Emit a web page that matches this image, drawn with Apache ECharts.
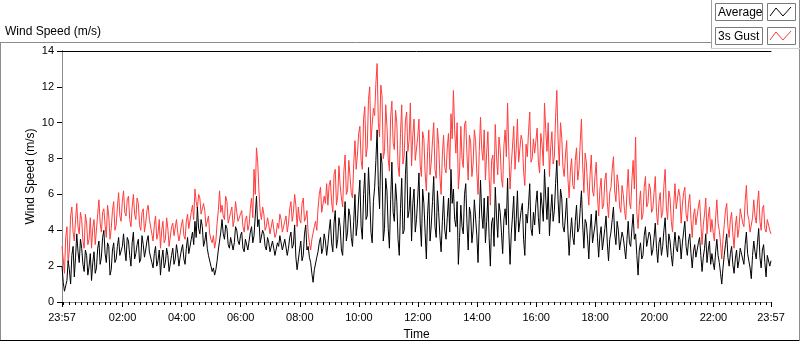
<!DOCTYPE html>
<html>
<head>
<meta charset="utf-8">
<script src="https://cdn.jsdelivr.net/npm/echarts@6/dist/echarts.min.js"></script>
<style>
  html, body { margin: 0; padding: 0; background: #fff; }
  #chart { width: 800px; height: 342px; }
</style>
</head>
<body>
<div id="chart"></div>
<script>
// sampling step of the logged data, minutes from 23:57
const STEP_MIN = 2.5;

// average wind speed (m/s), one row per hour
const averageSpeed = [
  2.0,1.1, 0.6,0.9, 1.2,2.3, 1.8,1.0, 2.6,3.1, 1.4,2.5, 3.8,2.8, 2.2,3.5, 3.0,2.1, 1.7,2.9, 2.6,1.5, 2.0,2.7,
  1.2,2.2, 2.8,1.6, 1.9,3.0, 3.4,2.1, 2.5,3.6, 4.0,2.7, 2.2,3.3, 3.1,1.5, 1.8,2.9, 3.3,2.2, 2.4,3.1, 3.6,2.6,
  2.6,3.1, 3.8,2.9, 2.3,3.6, 3.4,2.6, 2.0,3.3, 3.9,2.4, 2.7,3.2, 3.5,2.2, 2.4,3.7, 3.2,2.5, 2.9,3.4, 3.7,2.8,
  2.8,2.2, 1.9,2.7, 3.1,2.0, 2.3,2.9, 1.5,2.4, 2.9,1.9, 2.2,3.0, 2.6,1.7, 1.8,2.6, 3.0,2.1, 2.4,3.2, 2.7,2.0,
  2.5,2.9, 3.2,2.4, 2.1,3.0, 3.6,2.7, 2.8,3.5, 3.9,3.2, 4.5,3.6, 5.3,4.1, 3.8,4.6, 4.2,3.1, 3.4,3.9, 3.0,2.6,
  2.6,2.0, 1.7,1.9, 1.5,1.8, 2.3,2.9, 3.4,3.9, 4.6,3.8, 3.5,4.3, 4.1,3.2, 3.0,3.6, 3.7,2.9, 3.3,4.2, 4.0,3.4,
  3.2,3.7, 3.9,3.0, 2.8,3.5, 3.6,2.9, 3.0,3.9, 4.2,3.3, 3.7,4.8, 5.9,4.2, 4.6,3.3, 3.4,4.0, 3.8,3.1, 2.9,3.6,
  3.3,2.8, 2.9,3.4, 3.5,2.6, 2.7,3.3, 3.1,3.7, 3.6,2.9, 2.8,3.5, 3.4,2.6, 3.0,3.6, 3.9,3.0, 3.2,4.3, 2.5,1.8,
  1.8,2.9, 3.4,2.3, 2.6,3.8, 4.3,2.9, 3.1,2.5, 2.2,1.6, 1.1,1.8, 1.9,2.5, 2.8,3.3, 3.6,2.7, 3.0,3.8, 3.4,2.6,
  3.2,4.0, 4.6,3.3, 2.8,4.4, 5.1,3.0, 3.5,4.7, 4.2,2.9, 2.6,4.3, 5.6,3.4, 3.9,5.2, 4.8,3.6, 3.1,4.5, 6.0,3.7,
  4.4,5.8, 6.8,4.2, 3.5,6.0, 7.2,4.6, 4.8,7.5, 5.9,3.9, 3.3,5.6, 6.4,7.9, 9.6,6.5, 5.2,8.3, 7.7,3.4, 4.1,6.9,
  6.2,4.1, 3.0,5.7, 7.8,5.0, 4.5,6.6, 5.6,3.5, 2.6,5.2, 6.9,3.8, 4.0,7.1, 8.4,4.7, 5.1,6.4, 3.4,5.5, 6.3,3.9,
  4.6,5.8, 7.2,4.4, 3.1,6.3, 5.5,3.9, 2.4,4.9, 6.1,3.4, 4.3,5.6, 7.0,4.2, 3.6,6.2, 5.0,3.7, 2.8,4.5, 5.9,4.0,
  3.5,4.7, 5.8,3.9, 7.4,5.5, 6.3,4.6, 4.2,5.6, 2.1,3.6, 5.4,4.2, 3.8,6.0, 6.6,4.4, 2.9,5.3, 4.9,3.3, 4.0,5.7,
  5.6,3.7, 2.2,4.6, 6.8,4.9, 4.1,5.8, 3.3,4.5, 5.9,3.6, 2.0,4.4, 4.7,3.1, 6.4,4.8, 3.6,5.5, 5.0,3.9, 2.7,4.6,
  5.2,4.3, 6.9,4.0, 2.1,3.8, 4.8,5.9, 3.4,4.6, 6.2,3.9, 4.0,5.1, 5.5,3.5, 2.6,4.9, 4.4,5.4, 6.6,4.1, 3.7,5.0,
  4.3,5.5, 6.2,4.7, 3.8,6.1, 5.4,4.5, 7.4,5.8, 4.6,6.4, 3.7,5.0, 6.0,4.5, 5.1,6.6, 7.9,5.7, 4.4,6.3, 5.8,4.2,
  3.9,4.8, 5.8,4.0, 2.6,3.8, 4.7,3.6, 3.2,4.5, 5.4,3.9, 4.1,5.2, 6.2,4.3, 3.0,4.6, 4.4,3.5, 2.4,4.0, 4.9,3.3,
  3.4,4.3, 5.1,3.6, 2.5,3.7, 4.2,2.9, 3.0,4.1, 4.8,3.3, 2.3,3.5, 3.9,4.6, 5.3,3.8, 3.2,4.5, 4.0,2.9, 2.8,3.9,
  3.6,3.0, 2.4,3.5, 4.5,3.3, 3.1,4.1, 4.9,3.5, 3.8,2.6, 1.5,2.9, 3.3,2.4, 2.6,3.7, 4.2,3.1, 3.0,3.9, 3.7,2.6,
  2.9,3.6, 4.4,3.0, 2.2,3.3, 3.6,2.6, 3.1,4.0, 4.7,3.2, 2.5,3.8, 3.4,2.6, 2.0,3.1, 3.9,3.0, 2.8,3.7, 3.5,2.4,
  3.3,3.9, 4.5,3.1, 2.6,3.4, 3.8,2.7, 1.9,2.8, 3.2,2.5, 2.4,3.3, 3.6,2.6, 1.7,2.5, 3.0,3.8, 2.2,2.9, 3.4,2.1,
  2.7,2.2, 1.8,2.8, 3.5,2.6, 2.2,1.6, 1.0,1.9, 2.6,3.2, 3.8,2.5, 2.0,2.7, 3.1,2.1, 1.6,2.4, 2.9,1.9, 2.3,3.0,
  3.0,2.4, 2.1,3.2, 3.9,2.7, 2.6,1.9, 1.3,2.6, 3.4,2.8, 2.4,3.3, 4.1,2.5, 1.9,2.9, 3.2,2.2, 1.4,2.6, 2.7,2.0,
  2.3
];

// 3 second gust (m/s), one row per hour
const gustSpeed = [
  3.1,2.4, 1.6,3.6, 4.2,2.2, 2.9,4.8, 5.3,3.9, 3.4,4.6, 5.5,4.2, 3.8,5.0, 4.6,3.4, 3.0,4.9, 4.4,3.2, 3.5,4.7,
  3.0,4.1, 4.6,3.2, 3.3,4.9, 5.7,4.4, 3.9,5.0, 5.2,4.3, 3.6,5.4, 4.8,3.5, 4.1,5.1, 5.6,4.0, 4.3,5.3, 6.1,4.8,
  4.5,5.6, 6.2,5.0, 4.8,5.7, 5.9,4.6, 4.2,5.3, 6.0,4.9, 4.6,5.8, 5.5,4.3, 4.0,5.0, 5.2,3.9, 4.4,5.1, 5.4,4.6,
  4.7,3.8, 3.4,4.3, 4.8,3.5, 3.8,4.6, 3.0,4.0, 4.5,3.3, 3.5,4.7, 4.1,3.1, 3.2,4.2, 4.4,3.7, 3.6,4.6, 3.9,3.4,
  3.8,4.3, 4.6,3.7, 3.5,4.5, 4.9,4.1, 4.2,5.0, 5.4,4.6, 6.3,5.6, 5.2,6.0, 5.8,4.9, 4.8,5.5, 5.1,4.2, 4.3,4.8,
  3.8,3.5, 3.3,3.7, 3.0,3.4, 4.4,5.1, 6.2,5.0, 5.4,4.8, 4.6,5.9, 5.6,4.4, 4.3,5.0, 5.3,4.2, 4.6,5.6, 5.0,4.5,
  4.4,4.9, 5.1,4.2, 3.9,4.6, 4.8,4.0, 4.3,5.2, 5.8,4.7, 7.4,6.0, 8.6,7.8, 6.2,5.0, 4.6,5.3, 4.9,4.0, 4.2,4.7,
  4.3,3.8, 3.9,4.6, 4.5,3.6, 3.8,4.4, 4.1,4.9, 4.6,3.9, 4.0,4.5, 4.8,3.9, 4.4,5.2, 5.6,4.5, 5.0,6.0, 5.4,4.2,
  5.3,4.6, 4.4,5.5, 5.8,4.5, 4.7,5.1, 3.8,3.3, 2.9,3.5, 3.6,4.2, 4.5,4.0, 5.2,6.0, 6.4,5.0, 4.9,5.9, 5.5,6.6,
  5.4,6.5, 6.8,5.6, 5.0,7.1, 7.4,5.4, 5.9,7.6, 6.5,5.8, 5.3,7.3, 8.2,6.0, 6.2,7.9, 7.0,6.1, 5.8,7.7, 9.0,7.4,
  8.2,9.4, 9.8,7.9, 7.4,10.2, 10.9,8.1, 8.6,11.3, 12.0,9.0, 8.9,10.8, 10.4,12.2, 13.3,10.0, 9.2,12.1, 11.5,8.0, 8.4,11.0,
  9.8,8.0, 7.3,10.3, 11.2,8.9, 8.5,10.7, 10.0,7.6, 7.0,9.4, 11.0,7.7, 8.2,10.1, 10.6,8.4, 9.0,11.1, 7.6,9.3, 10.2,7.9,
  8.0,9.2, 10.2,7.6, 7.0,9.5, 9.1,7.2, 6.2,8.4, 9.6,7.1, 7.8,9.0, 10.0,7.4, 6.9,9.7, 8.8,7.0, 6.0,8.2, 9.3,7.5,
  7.2,8.6, 9.4,7.4, 10.5,9.1, 11.8,9.6, 8.3,10.0, 6.3,7.3, 9.8,8.0, 7.5,9.9, 10.1,8.2, 6.8,9.3, 8.9,7.0, 7.7,9.6,
  9.0,7.2, 6.0,8.4, 10.3,8.5, 7.9,9.6, 6.8,8.3, 9.5,7.0, 5.4,7.9, 8.2,6.6, 9.9,8.1, 7.1,9.2, 8.5,6.9, 6.4,8.7,
  9.6,8.1, 11.1,8.4, 6.3,7.6, 8.7,9.8, 7.4,8.5, 10.2,7.8, 7.9,9.3, 9.0,7.3, 6.5,8.8, 8.1,9.5, 10.6,7.8, 8.0,9.1,
  8.3,9.0, 9.7,7.8, 7.2,9.4, 8.8,7.6, 11.1,9.6, 8.4,10.0, 7.0,8.6, 9.5,7.7, 8.1,10.3, 11.8,9.1, 7.6,10.0, 9.2,7.5,
  7.0,8.2, 9.0,6.9, 5.8,7.3, 8.0,6.5, 6.3,7.9, 8.6,6.8, 7.4,8.9, 10.2,7.6, 6.1,8.3, 7.8,6.4, 5.4,7.1, 8.2,6.2,
  5.9,7.0, 7.8,5.9, 4.8,6.3, 6.9,5.2, 5.4,6.8, 7.2,5.6, 4.7,6.1, 6.4,7.4, 8.1,6.2, 5.6,7.1, 6.6,5.3, 5.0,6.5,
  6.0,5.1, 4.6,6.2, 7.4,5.6, 5.2,6.8, 7.9,6.3, 9.2,5.0, 4.1,5.4, 6.2,4.6, 4.9,6.4, 7.0,5.3, 5.5,6.6, 6.3,5.0,
  5.2,6.1, 7.0,5.0, 4.3,5.6, 6.1,4.7, 5.0,6.5, 7.4,5.3, 4.6,6.2, 5.8,4.5, 3.9,5.4, 6.6,5.2, 5.1,6.3, 5.9,4.4,
  5.4,6.1, 6.4,4.9, 4.5,5.5, 6.0,4.6, 3.6,4.8, 5.2,4.3, 4.2,5.3, 5.7,4.4, 3.2,4.3, 4.9,5.8, 3.8,4.7, 5.3,3.9,
  4.6,3.9, 3.4,4.7, 5.7,4.4, 4.0,3.3, 2.4,3.5, 4.3,5.1, 5.5,4.2, 3.6,4.6, 5.0,3.8, 3.0,4.2, 4.8,3.6, 4.1,5.2,
  5.3,4.4, 4.2,5.6, 6.5,4.9, 4.6,3.9, 3.8,4.7, 5.7,4.8, 4.4,5.5, 6.2,4.5, 4.0,5.2, 5.4,4.1, 3.9,4.6, 4.5,4.0,
  3.8
];

// x-axis: minutes after 23:57, major labelled ticks
const majorTicks = [0, 123, 243, 363, 483, 603, 723, 843, 963, 1083, 1203, 1323, 1440];
const majorLabels = ["23:57", "02:00", "04:00", "06:00", "08:00", "10:00", "12:00",
  "14:00", "16:00", "18:00", "20:00", "22:00", "23:57"];
// minor ticks every 12 minutes from 00:00
const minorTicks = [];
for (let m = 3; m < 1440; m += 12) {
  if (majorTicks.indexOf(m) < 0) minorTicks.push(m);
}

const seriesNames = ["Average", "3s Gust"];
const seriesColors = ["#000000", "#ff3d3d"];

const toPairs = (values) => values.map((v, i) => [i * STEP_MIN, v]);

const FONT = "Liberation Sans";
const chart = echarts.init(document.getElementById("chart"), null, { renderer: "canvas" });

const legendItem = (y, label, color) => [
  {
    type: "rect",
    shape: { x: 715.5, y: y + 0.5, width: 47, height: 17 },
    style: { fill: "#fff", stroke: "#7a7a7a", lineWidth: 1 }
  },
  {
    type: "text",
    style: { x: 718, y: y + 9.5, text: label, fill: "#000", font: `12px ${FONT}`, verticalAlign: "middle" }
  },
  {
    type: "rect",
    shape: { x: 767.5, y: y + 0.5, width: 28, height: 17 },
    style: { fill: "#fff", stroke: "#7a7a7a", lineWidth: 1 }
  },
  {
    type: "polyline",
    shape: { points: [[770, y + 13], [776, y + 5], [783, y + 13], [791, y + 4]] },
    style: { stroke: color, lineWidth: 1, fill: null }
  }
];

chart.setOption({
  animation: false,
  backgroundColor: "#fff",
  textStyle: { fontFamily: FONT },
  grid: { left: 62, right: 29, top: 51, bottom: 40, containLabel: false, outerBoundsMode: "none" },
  graphic: [
    {
      type: "text",
      style: { x: 5, y: 32, text: "Wind Speed (m/s)", fill: "#000", font: `12px ${FONT}`, verticalAlign: "middle" }
    },
    // panel frame
    { type: "line", shape: { x1: 0, y1: 42.5, x2: 711, y2: 42.5 }, style: { stroke: "#8c8c8c", lineWidth: 1 } },
    { type: "line", shape: { x1: 0.5, y1: 42, x2: 0.5, y2: 341 }, style: { stroke: "#8c8c8c", lineWidth: 1 } },
    { type: "line", shape: { x1: 0, y1: 340.5, x2: 800, y2: 340.5 }, style: { stroke: "#000", lineWidth: 1 } },
    { type: "line", shape: { x1: 799.5, y1: 0, x2: 799.5, y2: 341 }, style: { stroke: "#8c8c8c", lineWidth: 1 } },
    { type: "line", shape: { x1: 711.5, y1: 0, x2: 711.5, y2: 49 }, style: { stroke: "#a0a0a0", lineWidth: 1 } },
    { type: "line", shape: { x1: 711, y1: 48.5, x2: 800, y2: 48.5 }, style: { stroke: "#d0d0d0", lineWidth: 1 } },
    ...legendItem(3, seriesNames[0], seriesColors[0]),
    ...legendItem(27, seriesNames[1], seriesColors[1])
  ],
  xAxis: [
    {
      type: "value",
      min: 0,
      max: 1440,
      position: "bottom",
      name: "Time",
      nameLocation: "middle",
      nameGap: 27,
      nameMoveOverlap: false,
      nameTextStyle: { color: "#000", fontSize: 12, fontFamily: FONT },
      axisLine: { show: true, lineStyle: { color: "#8c8c8c", width: 1 } },
      axisTick: { show: true, customValues: majorTicks, length: 5, lineStyle: { color: "#000" } },
      axisLabel: {
        customValues: majorTicks,
        margin: 10,
        color: "#000",
        fontSize: 11,
        fontFamily: FONT,
        formatter: (v) => majorLabels[majorTicks.indexOf(Math.round(v))] || ""
      },
      splitLine: { show: false }
    },
    {
      type: "value",
      min: 0,
      max: 1440,
      position: "bottom",
      axisLine: { show: false },
      axisTick: { show: true, customValues: minorTicks, length: 3, lineStyle: { color: "#000" } },
      axisLabel: { show: false },
      splitLine: { show: false }
    },
    {
      type: "value",
      min: 0,
      max: 1440,
      position: "top",
      axisLine: { show: true, lineStyle: { color: "#000", width: 1 } },
      axisTick: { show: false },
      axisLabel: { show: false },
      splitLine: { show: false }
    }
  ],
  yAxis: [
    {
      type: "value",
      min: 0,
      max: 14,
      interval: 2,
      position: "left",
      name: "Wind Speed (m/s)",
      nameLocation: "middle",
      nameRotate: 90,
      nameGap: 25,
      nameMoveOverlap: false,
      nameTextStyle: { color: "#000", fontSize: 12, fontFamily: FONT },
      axisLine: { show: true, lineStyle: { color: "#000", width: 1 } },
      axisTick: { show: true, length: 5, lineStyle: { color: "#000" } },
      axisLabel: { color: "#000", fontSize: 11, fontFamily: FONT, margin: 8 },
      splitLine: { show: false }
    },
    {
      type: "value",
      min: 0,
      max: 14,
      position: "right",
      axisLine: { show: true, lineStyle: { color: "#8c8c8c", width: 1 } },
      axisTick: { show: false },
      axisLabel: { show: false },
      splitLine: { show: false }
    }
  ],
  series: [
    {
      name: seriesNames[1],
      type: "line",
      xAxisIndex: 0,
      yAxisIndex: 0,
      data: toPairs(gustSpeed),
      showSymbol: false,
      symbol: "none",
      lineStyle: { color: seriesColors[1], width: 1 },
      emphasis: { disabled: true }
    },
    {
      name: seriesNames[0],
      type: "line",
      xAxisIndex: 0,
      yAxisIndex: 0,
      data: toPairs(averageSpeed),
      showSymbol: false,
      symbol: "none",
      lineStyle: { color: seriesColors[0], width: 1 },
      emphasis: { disabled: true }
    }
  ]
});
</script>
</body>
</html>
